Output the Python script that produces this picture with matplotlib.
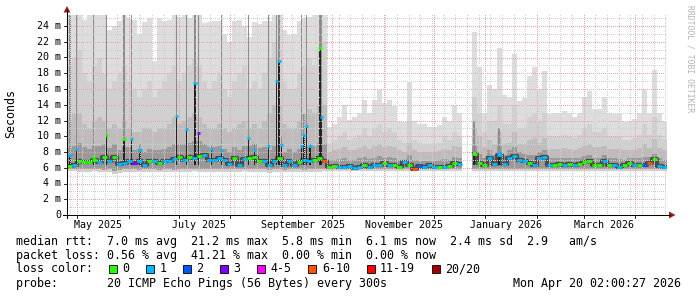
import datetime as dt
import numpy as np
import matplotlib
matplotlib.use("Agg")
import matplotlib.pyplot as plt
import matplotlib.dates as mdates
from matplotlib.lines import Line2D
from matplotlib.patches import Polygon, Rectangle

W, H = 697, 297
MONO = "DejaVu Sans Mono"
nan = float("nan")

# ---------------- data ----------------
start = dt.datetime(2025, 4, 25, 2, 0, 27)
end = dt.datetime(2026, 4, 20, 2, 0, 27)
step_days = 3

median_ms = [6.2, 6.3, 6.9, 6.7, 6.7, 7.0, 6.7, 7.4, 6.8, 7.4, 6.5, 6.6, 6.8, 6.6, 6.8, 6.3, 6.9, 6.8, 6.6, 6.8,
             6.8, 7.1, 7.4, 7.0, 7.4, 7.3, 7.5, 7.6, 7.0, 7.0,
             7.2, 7.0, 6.5, 7.2, 6.4, 7.1, 7.2, 7.4, 6.8, 6.9, 6.4, 6.8, 7.2, 6.3, 6.8, 6.4, 6.7, 7.0, 6.8, 7.0,
             7.3, 6.9, 6.1, 6.2, 6.1, 6.1, 6.2, 6.0, 6.1, 6.3,
             6.1, 6.3, 6.4, 6.6, 6.3, 6.4, 6.1, 6.7, 6.4, 5.8, 6.2, 6.1, 6.3, 6.1, 6.1, 6.1, 6.2, 6.6, 6.5, nan,
             nan, 7.8, 6.6, 6.3, 7.2, 6.5, 7.6, 6.5, 7.3, 7.5,
             7.0, 6.8, 6.6, 6.3, 7.2, 7.4, 6.3, 6.3, 6.5, 6.3, 6.5, 6.3, 6.5, 6.7, 6.8, 6.3, 6.4, 6.9, 6.3, 6.3,
             6.1, 6.3, 6.6, 6.3, 6.4, 6.3, 6.6, 7.1, 6.2, 6.1]
loss_class = [0, 1, 0, 0, 0, 0, 1, 0, 1, 0, 1, 1, 1, 3, 1, 1, 0, 1, 0, 1, 1, 1, 0, 1, 0, 1, 0, 1, 1, 1,
              1, 1, 1, 0, 1, 1, 0, 0, 0, 1, 1, 1, 0, 1, 1, 1, 0, 1, 1, 0, 0, 5, 0, 0, 1, 1, 1, 1, 1, 0,
              1, 1, 1, 0, 1, 0, 0, 1, 0, 5, 2, 1, 1, 1, 0, 1, 0, 0, 1, 0, 0, 0, 0, 0, 1, 1, 1, 1, 1, 1,
              1, 1, 0, 1, 1, 1, 1, 0, 0, 1, 0, 1, 0, 0, 0, 0, 0, 1, 0, 1, 1, 0, 0, 1, 0, 2, 5, 0, 1, 1]
smoke_top = [25.4, 25.4, 25.4, 24.8, 25.4, 25.4, 25.4, 25.4, 23.5, 24.0, 24.6, 25.4, 25.0, 24.8, 23.0, 24.5,
             25.0, 19.5, 25.0, 24.6, 24.8, 25.4, 25.2, 25.4, 25.0, 25.4, 25.4, 24.4, 24.5, 24.6, 24.6, 23.0,
             22.0, 24.6, 24.8, 24.0, 22.6, 24.5, 24.2, 24.6, 24.6, 25.4, 25.4, 23.5, 22.8, 23.0, 24.6, 25.0,
             25.2, 25.4, 25.4, 25.4,
             11.2, 11.6, 12.5, 14.0, 12.1, 12.5, 13.0, 14.6, 13.0, 14.6, 15.9, 14.2, 14.6, 13.8, 12.0, 11.8,
             16.9, 12.0, 11.6, 11.6, 11.2, 11.2, 11.4, 12.5, 12.0, 14.0, 13.0,
             nan, nan,
             23.3, 18.8, 13.0, 16.5, 16.0, 21.2, 15.2, 15.0, 20.4, 14.5, 14.8, 17.6, 18.8, 16.0, 18.3, 12.8,
             13.0, 13.0, 13.2, 13.0, 12.5, 13.0, 15.0, 15.7, 13.5, 13.5, 15.0, 13.0, 12.8, 13.0, 11.8, 11.8,
             12.2, 13.0, 15.9, 13.0, 18.4, 13.0, 12.0]
smoke_u2 = [19, 20, 21, 18, 17, 19, 20, 18, 16, 17, 18, 19, 17, 16, 15, 16, 17, 15, 16, 17,
            18, 19, 17, 18, 19, 20, 19, 17, 16, 17, 18, 16, 15, 17, 18, 19, 16, 17, 16, 18,
            20, 22, 21, 17, 16, 16, 18, 19, 20, 19, 21, 22,
            9.0, 9.5, 10.0, 10.5, 9.5, 9.8, 10.2, 11.0, 10.0, 11.0, 11.5, 10.5, 11.0, 10.5, 9.5, 9.2,
            12.0, 9.5, 9.2, 9.0, 9.0, 9.0, 9.2, 10.0, 9.5, 10.5, 10.0,
            nan, nan,
            15, 13, 10.5, 12, 12, 14, 11.5, 11.5, 14, 11, 11, 12.5, 13, 12, 13, 10, 10, 10, 10.2, 10,
            9.8, 10.2, 11, 11.5, 10.5, 10.5, 11, 10, 10, 10, 9.5, 9.5, 9.8, 10.2, 11.5, 10.2, 12.5, 10.2, 9.6]
smoke_u3 = [12, 13, 13, 11.5, 11, 12, 12.5, 12, 11, 11.5, 11, 12, 11, 10.5, 10.5, 11, 11, 10.5, 11, 11,
            11.5, 12.5, 11.5, 12, 12.5, 13, 12.5, 11.5, 11, 11, 11.5, 11, 10.5, 11, 11.5, 12, 11, 11.5, 11, 12,
            13, 14, 14, 11.5, 11, 11, 12, 13, 13.5, 13, 14, 14,
            8.0, 8.2, 8.4, 8.6, 8.2, 8.3, 8.5, 8.8, 8.4, 8.8, 9.0, 8.6, 8.8, 8.6, 8.2, 8.0, 9.2, 8.2, 8.0, 8.0,
            8.0, 8.0, 8.1, 8.4, 8.2, 8.8, 8.6,
            nan, nan,
            11, 10, 8.6, 9.5, 9.0, 10.5, 9.0, 9.2, 10.5, 9.0, 9.0, 9.5, 9.8, 9.2, 9.8, 8.4, 8.4, 8.4, 8.5, 8.4,
            8.3, 8.5, 8.8, 9.0, 8.6, 8.6, 8.8, 8.4, 8.4, 8.4, 8.2, 8.2, 8.3, 8.5, 9.0, 8.5, 9.6, 8.5, 8.2]
smoke_u4 = [8.5, 8.8, 9.2, 8.6, 8.4, 8.8, 8.8, 9.0, 8.5, 9.0, 8.2, 8.6, 8.6, 8.3, 8.4, 8.0, 8.4, 8.2, 8.3, 8.4,
            8.6, 9.0, 9.0, 9.0, 9.2, 9.4, 9.4, 9.0, 8.6, 8.6, 8.8, 8.4, 8.0, 8.6, 8.2, 8.8, 8.8, 9.0, 8.5, 8.6,
            8.2, 8.8, 9.0, 8.0, 8.4, 8.0, 8.4, 8.8, 8.6, 8.8, 9.2, 9.0,
            7.0, 7.0, 7.1, 7.2, 7.0, 7.0, 7.2, 7.4, 7.1, 7.3, 7.5, 7.3, 7.4, 7.3, 7.0, 7.0, 7.6, 7.0, 6.9, 6.9,
            6.9, 6.9, 7.0, 7.1, 7.0, 7.4, 7.3,
            nan, nan,
            8.8, 7.8, 7.3, 8.2, 7.6, 8.8, 7.6, 8.2, 8.6, 8.0, 7.8, 7.6, 7.6, 8.0, 8.2, 7.2, 7.2, 7.3, 7.2, 7.3,
            7.2, 7.3, 7.5, 7.6, 7.3, 7.3, 7.6, 7.2, 7.2, 7.1, 7.0, 7.2, 7.3, 7.2, 7.4, 7.4, 7.8, 7.2, 7.0]
smoke_lo_in = [5.85, 5.85, 5.8, 5.8, 5.8, 5.85, 5.8, 5.7, 5.8, 5.6, 5.7, 5.8, 5.8, 5.8, 5.75, 5.8, 5.8, 5.8, 5.75, 5.8,
               5.8, 5.75, 5.8, 5.8, 5.8, 5.85, 5.8, 5.8, 5.8, 5.8, 5.8, 5.8, 5.8, 5.8, 5.8, 5.85, 5.8, 5.8, 5.8, 5.8,
               5.7, 5.8, 5.8, 5.75, 5.8, 5.8, 5.8, 5.75, 5.8, 5.8, 5.8, 5.85,
               5.85, 5.85, 5.85, 5.85, 5.85, 5.85, 5.85, 5.85, 5.85, 5.85, 5.85, 5.85, 5.85, 5.85, 5.85, 5.85,
               5.85, 5.85, 5.85, 5.85, 5.85, 5.85, 5.85, 5.85, 5.85, 5.85, 5.85,
               nan, nan,
               5.85, 5.85, 5.85, 5.85, 5.85, 5.85, 5.85, 5.85, 5.85, 5.85, 5.85, 5.85, 5.85, 5.85, 5.85, 5.85,
               5.85, 5.85, 5.85, 5.85, 5.85, 5.85, 5.85, 5.85, 5.85, 5.85, 5.85, 5.85, 5.85, 5.85, 5.85, 5.85,
               5.85, 5.85, 5.85, 5.85, 5.85, 5.85, 5.85]
smoke_lo = [5.6, 5.6, 5.5, 5.5, 5.5, 5.6, 5.5, 5.4, 5.5, 5.2, 5.3, 5.5, 5.5, 5.5, 5.4, 5.5, 5.5, 5.5, 5.4, 5.5,
            5.5, 5.4, 5.5, 5.5, 5.5, 5.6, 5.5, 5.5, 5.5, 5.5, 5.5, 5.5, 5.5, 5.5, 5.5, 5.6, 5.5, 5.5, 5.5, 5.5,
            5.3, 5.5, 5.5, 5.4, 5.5, 5.5, 5.5, 5.4, 5.5, 5.5, 5.5, 5.6,
            5.6, 5.6, 5.6, 5.6, 5.6, 5.6, 5.6, 5.6, 5.6, 5.6, 5.6, 5.6, 5.6, 5.6, 5.6, 5.6,
            5.6, 5.6, 5.6, 5.6, 5.6, 5.6, 5.6, 5.6, 5.6, 5.6, 5.6,
            nan, nan,
            5.6, 5.6, 5.6, 5.6, 5.6, 5.6, 5.6, 5.6, 5.6, 5.6, 5.6, 5.6, 5.6, 5.6, 5.6, 5.6,
            5.6, 5.6, 5.6, 5.6, 5.6, 5.6, 5.6, 5.6, 5.6, 5.6, 5.6, 5.6, 5.6, 5.6, 5.6, 5.6,
            5.6, 5.6, 5.6, 5.6, 5.6, 5.6, 5.6]

# short-lived spikes (days after start)
spike_day = [1.8, 5.8, 15.8, 23.8, 34.2, 38.8, 43.8, 65.6, 71.8, 76.8, 78.8, 86.8, 92.6, 108.8, 112.6,
             120.8, 125.8, 127.2, 128.8, 140.8, 142.2, 143.8, 145.8, 151.8, 152.8, 244.2, 259.2]
spike_median = [7.6, 8.4, 7.4, 10.1, 9.6, 9.6, 8.3, 12.6, 10.9, 16.8, 10.4, 8.4, 8.3, 9.8, 8.3,
                8.8, 17.0, 19.6, 8.9, 8.7, 10.1, 11.3, 8.7, 21.2, 12.4, 7.8, 7.9]
spike_loss = [1, 1, 0, 0, 0, 1, 1, 1, 1, 1, 3, 1, 1, 1, 1, 1, 1, 1, 1, 1, 1, 1, 1, 0, 1, 0, 1]
spike_top = [25.4, 25.4, 25.4, 25.4, 25.4, 25.4, 9.0, 25.4, 25.4, 25.4, 25.4, 9.0, 25.4, 25.4, 9.0,
             25.4, 25.4, 25.4, 10.0, 25.4, 13.0, 25.4, 9.0, 25.4, 25.4, 12.0, 11.0]

loss_colors = ["#26ff00", "#00b8ff", "#0059ff", "#7e00ff", "#ff00ff", "#ff5500", "#ff0000", "#a10000"]
loss_labels = ["0", "1", "2", "3", "4-5", "6-10", "11-19", "20/20"]
y_tick_values = [0, 2, 4, 6, 8, 10, 12, 14, 16, 18, 20, 22, 24]
x_label_text = ["May 2025", "July 2025", "September 2025", "November 2025", "January 2026", "March 2026"]
x_label_month = [(2025, 5), (2025, 7), (2025, 9), (2025, 11), (2026, 1), (2026, 3)]

rtt_avg, rtt_max, rtt_min, rtt_now, rtt_sd, rtt_ams = 7.0, 21.2, 5.8, 6.1, 2.4, 2.9
loss_avg, loss_max, loss_min, loss_now = 0.56, 41.21, 0.00, 0.00
probe_text = "20 ICMP Echo Pings (56 Bytes) every 300s"
stamp_text = "Mon Apr 20 02:00:27 2026"

# ---------------- layout ----------------
PL, PR, PT, PB = 67, 667, 14, 215
PX_PER_MS = 7.875


def fx(px):
    return px / W


def fy(py):
    return 1 - py / H


fig = plt.figure(figsize=(W / 100, H / 100), dpi=100)
fig.patch.set_facecolor("white")
ax = fig.add_axes([fx(PL), fy(PB), (PR - PL) / W, (PB - PT) / H])
ax.axis("off")
t0 = mdates.date2num(start)
t1 = mdates.date2num(end)
ymax = (PB - PT) / PX_PER_MS
ax.set_xlim(t0, t1)
ax.set_ylim(0, ymax)

n = len(median_ms)
left = t0 + step_days * np.arange(n)
med = np.array(median_ms, float)

layers = [(smoke_lo, smoke_top, "#dddddd"),
          (smoke_lo, smoke_u2, "#d0d0d0"),
          (smoke_lo_in, smoke_u3, "#bdbdbd"),
          (smoke_lo_in, smoke_u4, "#999999")]
for lo, hi, col in layers:
    lo = np.array(lo, float)
    hi = np.minimum(np.array(hi, float), ymax)
    ax.bar(left, hi - lo, bottom=lo, width=step_days, align="edge", color=col,
           linewidth=0, antialiased=False, zorder=1)

# dark core around the median
xs = np.append(left, left[-1] + step_days)
ys = np.append(med, med[-1])
ax.step(xs, ys, where="post", color="#4a4a4a", lw=3.0, zorder=2, solid_capstyle="butt")

# spikes
sd = t0 + np.array(spike_day)
for d, m, top in zip(sd, spike_median, spike_top):
    ax.bar(d, min(top, ymax) - 6.3, bottom=6.3, width=0.7, color="#8c8c8c", linewidth=0,
           antialiased=False, zorder=2)
    ax.bar(d, m - 6.3, bottom=6.3, width=0.9, color="#222222", linewidth=0,
           antialiased=False, zorder=2)

# grid
minor_col, major_col = "#cfcfcf", "#e6a4a4"
dots = (0, (1, 1.5))
for v in range(1, int(ymax) + 1):
    ax.axhline(v, color=major_col if v % 2 == 0 else minor_col, lw=0.72, ls=dots,
               antialiased=False, zorder=3)
wk = start + dt.timedelta(days=(6 - start.weekday()) % 7)
wk = dt.datetime(wk.year, wk.month, wk.day)
while wk < end:
    ax.axvline(mdates.date2num(wk), color=minor_col, lw=0.72, ls=dots, antialiased=False, zorder=3)
    wk += dt.timedelta(days=7)
month_lines = []
y, m = 2025, 5
while dt.datetime(y, m, 1) < end:
    month_lines.append(dt.datetime(y, m, 1))
    m += 1
    if m > 12:
        m, y = 1, y + 1
for d in month_lines:
    ax.axvline(mdates.date2num(d), color=major_col, lw=0.72, ls=dots, antialiased=False, zorder=3)

# median loss colour marks
cols = [loss_colors[c] for c in loss_class]
ax.hlines(med, left, left + step_days, colors=cols, lw=2.0, zorder=5)
ax.hlines(spike_median, sd - 0.9, sd + 0.9, colors=[loss_colors[c] for c in spike_loss],
          lw=2.0, zorder=5)

# axes lines + arrows
arrow_col = "#9b1c1c"
fig.add_artist(Line2D([fx(PL), fx(PL)], [fy(PB + 3), fy(10)], color="black", lw=0.75))
fig.add_artist(Line2D([fx(PL - 4), fx(670)], [fy(PB), fy(PB)], color="black", lw=0.75))
fig.add_artist(Polygon([[fx(PL - 3.5), fy(12.5)], [fx(PL + 3.5), fy(12.5)], [fx(PL), fy(6)]],
                       closed=True, color=arrow_col, lw=0))
fig.add_artist(Polygon([[fx(669), fy(PB - 3.5)], [fx(669), fy(PB + 3.5)], [fx(675.5), fy(PB)]],
                       closed=True, color=arrow_col, lw=0))

# y ticks and labels
for v in y_tick_values:
    py = PB - v * PX_PER_MS
    fig.add_artist(Line2D([fx(PL - 3), fx(PL)], [fy(py), fy(py)], color="black", lw=0.6))
    lab = "0" if v == 0 else f"{v} m"
    fig.text(fx(61), fy(py), lab, ha="right", va="center", fontsize=7.2, family=MONO)
for d in month_lines:
    px = PL + (mdates.date2num(d) - t0) / (t1 - t0) * (PR - PL)
    fig.add_artist(Line2D([fx(px), fx(px)], [fy(PB), fy(PB + 3)], color="black", lw=0.6))
for txt, (yy, mm) in zip(x_label_text, x_label_month):
    d = dt.datetime(yy, mm, 1) + dt.timedelta(days=12.5)
    px = PL + (mdates.date2num(d) - t0) / (t1 - t0) * (PR - PL)
    fig.text(fx(px), fy(225), txt, ha="center", va="center", fontsize=7.2, family=MONO)

fig.text(fx(10.5), fy(114), "Seconds", rotation=90, ha="center", va="center", fontsize=8.4, family=MONO)
fig.text(fx(690), fy(5), "RRDTOOL / TOBI OETIKER", rotation=270, ha="center", va="top",
         fontsize=5.8, family=MONO, color="#b4b4b4")

# legend
LX = 16
row1 = (f"median rtt:  {rtt_avg:.1f} ms avg  {rtt_max:.1f} ms max  {rtt_min:.1f} ms min  "
        f"{rtt_now:.1f} ms now  {rtt_sd:.1f} ms sd  {rtt_ams:.1f}   am/s")
row2 = (f"packet loss: {loss_avg:.2f} % avg  {loss_max:.2f} % max  {loss_min:.2f} % min  "
        f"{loss_now:.2f} % now")
fig.text(fx(LX), fy(241), row1, ha="left", va="center", fontsize=8.4, family=MONO)
fig.text(fx(LX), fy(255), row2, ha="left", va="center", fontsize=8.4, family=MONO)
fig.text(fx(LX), fy(269), "loss color:", ha="left", va="center", fontsize=8.4, family=MONO)
bx = 109
for col, lab in zip(loss_colors, loss_labels):
    fig.add_artist(Rectangle((fx(bx), fy(273)), 8 / W, 8 / H, facecolor=col, edgecolor="black", lw=0.6))
    fig.text(fx(bx + 13.5), fy(269), lab, ha="left", va="center", fontsize=8.4, family=MONO)
    bx += 30 + 7.05 * len(lab)
fig.text(fx(LX), fy(283), "probe:       " + probe_text, ha="left", va="center", fontsize=8.4, family=MONO)
fig.text(fx(681), fy(283), stamp_text, ha="right", va="center", fontsize=8.4, family=MONO)

fig.savefig("out.png", dpi=100, facecolor="white")
